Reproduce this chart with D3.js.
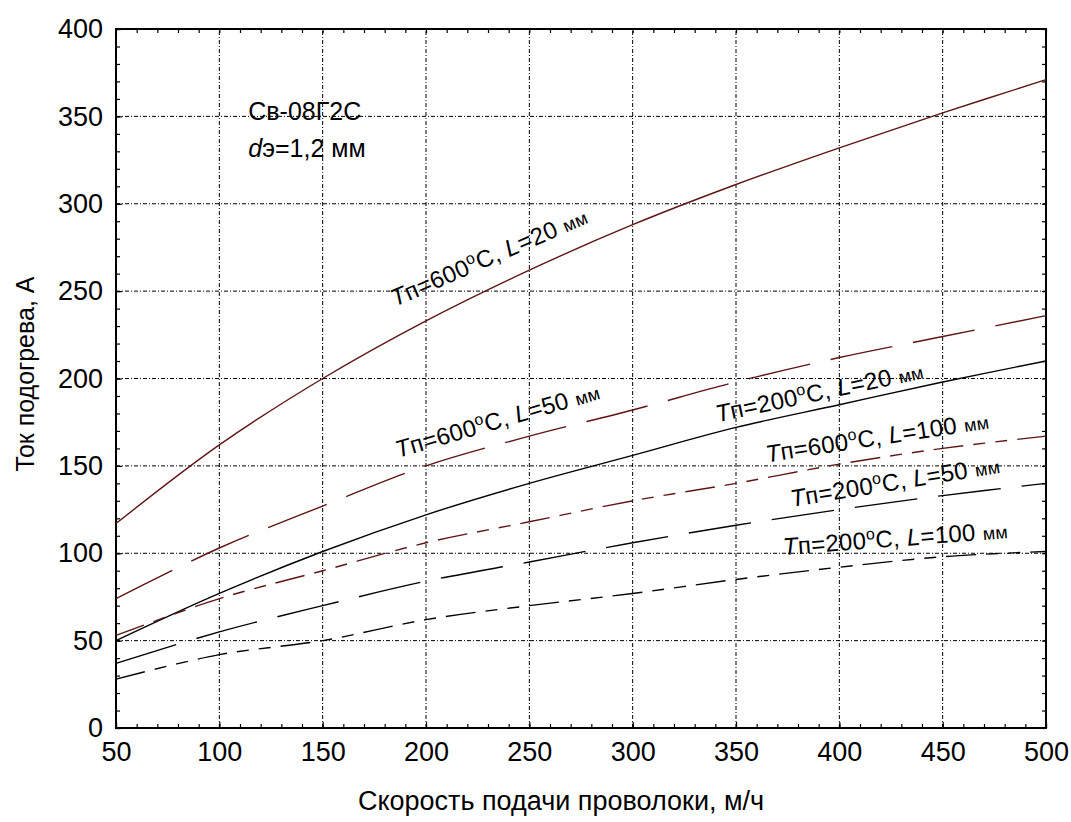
<!DOCTYPE html>
<html>
<head>
<meta charset="utf-8">
<script src="https://d3js.org/d3.v7.min.js"></script>
<style>
  body { margin: 0; background: #fff; }
  svg text { font-family: "Liberation Sans", Arial, sans-serif; fill: #000; }
</style>
</head>
<body>
<div id="chart"></div>
<script>
// скорость подачи проволоки, м/ч
const speed = [50, 100, 150, 200, 250, 300, 350, 400, 450, 500];

// ток подогрева, А
const t600L20  = [117, 162, 200, 233, 262, 288, 311, 332, 352, 371];
const t600L50  = [74, 103, 127, 150, 167, 182, 198, 212, 224, 236];
const t200L20  = [50, 77, 101, 122, 140, 156, 172, 185, 198, 210];
const t600L100 = [53, 74, 90, 106, 118, 130, 140, 151, 160, 167];
const t200L50  = [37, 55, 70, 84, 95, 106, 116, 125, 133, 140];
const t200L100 = [28, 42, 50, 62, 70, 77, 85, 92, 98, 101];

const xTicks = [50, 100, 150, 200, 250, 300, 350, 400, 450, 500];
const yTicks = [0, 50, 100, 150, 200, 250, 300, 350, 400];

const series = [
  { values: t600L20,  color: "#5e1515", dash: null },
  { values: t600L50,  color: "#5e1515", dash: "63,21" },
  { values: t200L20,  color: "#000",    dash: null },
  { values: t600L100, color: "#5e1515", dash: "30,10,12,10,12,10" },
  { values: t200L50,  color: "#000",    dash: "63,21" },
  { values: t200L100, color: "#000",    dash: "30,10,12,10,12,10" }
];

// подписи кривых: точка начала (в единицах осей) и угол наклона
const curveLabels = [
  { T: "600", L: "20",  x: 185, y: 241, angle: -23.5 },
  { T: "600", L: "50",  x: 186.5, y: 154.5, angle: -16.3 },
  { T: "200", L: "20",  x: 341, y: 175, angle: -12 },
  { T: "600", L: "100", x: 365, y: 152, angle: -8.7 },
  { T: "200", L: "50",  x: 377, y: 126.5, angle: -9.3 },
  { T: "200", L: "100", x: 373, y: 99, angle: -4.3 }
];

const width = 1071, height = 822;
const margin = { top: 29, right: 25, bottom: 94, left: 116 };

const svg = d3.select("#chart").append("svg")
  .attr("width", width)
  .attr("height", height);

const x = d3.scaleLinear().domain([50, 500]).range([margin.left, width - margin.right]);
const y = d3.scaleLinear().domain([0, 400]).range([height - margin.bottom, margin.top]);

// сетка
const grid = svg.append("g")
  .attr("stroke", "#000")
  .attr("stroke-width", 1)
  .attr("stroke-dasharray", "4,2,1,2");

grid.selectAll(".vx").data(xTicks.slice(1, -1)).enter().append("line")
  .attr("x1", d => x(d)).attr("x2", d => x(d))
  .attr("y1", y(0)).attr("y2", y(400));

grid.selectAll(".hy").data(yTicks.slice(1, -1)).enter().append("line")
  .attr("x1", x(50)).attr("x2", x(500))
  .attr("y1", d => y(d)).attr("y2", d => y(d));

// оси
const minorX = d3.range(50, 501, 10);
const minorY = d3.range(0, 401, 10);

function styleAxis(g) {
  g.select(".domain").remove();
  g.selectAll("line").attr("stroke", "#000").attr("stroke-width", 1.2);
  g.selectAll("text").style("font-size", "27px");
}

svg.append("g")
  .attr("transform", `translate(0,${y(0)})`)
  .call(d3.axisBottom(x).tickValues(minorX).tickSize(-4).tickFormat(""))
  .call(styleAxis);
svg.append("g")
  .attr("transform", `translate(0,${y(0)})`)
  .call(d3.axisBottom(x).tickValues(xTicks).tickSize(-6).tickPadding(14).tickFormat(d3.format("d")))
  .call(styleAxis);
svg.append("g")
  .attr("transform", `translate(0,${y(400)})`)
  .call(d3.axisTop(x).tickValues(minorX).tickSize(-4).tickFormat(""))
  .call(styleAxis);

svg.append("g")
  .attr("transform", `translate(${x(50)},0)`)
  .call(d3.axisLeft(y).tickValues(minorY).tickSize(-4).tickFormat(""))
  .call(styleAxis);
svg.append("g")
  .attr("transform", `translate(${x(50)},0)`)
  .call(d3.axisLeft(y).tickValues(yTicks).tickSize(-6).tickPadding(13).tickFormat(d3.format("d")))
  .call(styleAxis);
svg.append("g")
  .attr("transform", `translate(${x(500)},0)`)
  .call(d3.axisRight(y).tickValues(minorY).tickSize(-4).tickFormat(""))
  .call(styleAxis);

// рамка
svg.append("rect")
  .attr("x", x(50)).attr("y", y(400))
  .attr("width", x(500) - x(50)).attr("height", y(0) - y(400))
  .attr("fill", "none").attr("stroke", "#000").attr("stroke-width", 2);

// кривые
const line = d3.line()
  .x((d, i) => x(speed[i]))
  .y(d => y(d))
  .curve(d3.curveCatmullRom.alpha(0.5));

svg.selectAll(".curve").data(series).enter().append("path")
  .attr("class", "curve")
  .attr("d", d => line(d.values))
  .attr("fill", "none")
  .attr("stroke", d => d.color)
  .attr("stroke-width", 1.4)
  .attr("stroke-dasharray", d => d.dash);

// подписи кривых
const lbl = svg.selectAll(".lbl").data(curveLabels).enter().append("text")
  .attr("class", "lbl")
  .attr("transform", d => `translate(${x(d.x)},${y(d.y)}) rotate(${d.angle})`)
  .style("font-size", "24px")
  .style("letter-spacing", "0.3px");

lbl.append("tspan").style("font-style", "italic").text("T");
lbl.append("tspan").text(d => "п=" + d.T);
lbl.append("tspan").attr("dy", -9).style("font-size", "16px").text("o");
lbl.append("tspan").attr("dy", 9).text("C, ");
lbl.append("tspan").style("font-style", "italic").text("L");
lbl.append("tspan").text(d => "=" + d.L + " ");
lbl.append("tspan").style("font-size", "18px").text("мм");

// марка проволоки
const note = svg.append("text")
  .attr("x", x(114)).attr("y", y(348))
  .style("font-size", "25px");
note.text("Св-08Г2С");

const note2 = svg.append("text")
  .attr("x", x(114)).attr("y", y(327))
  .style("font-size", "25px");
note2.append("tspan").style("font-style", "italic").text("d");
note2.append("tspan").text("э=1,2 мм");

// заголовки осей
svg.append("text")
  .attr("x", 561)
  .attr("y", 810)
  .attr("text-anchor", "middle")
  .style("font-size", "27px")
  .text("Скорость подачи проволоки, м/ч");

svg.append("text")
  .attr("transform", `translate(34,${374}) rotate(-90)`)
  .attr("text-anchor", "middle")
  .style("font-size", "25px")
  .text("Ток подогрева, А");
</script>
</body>
</html>
